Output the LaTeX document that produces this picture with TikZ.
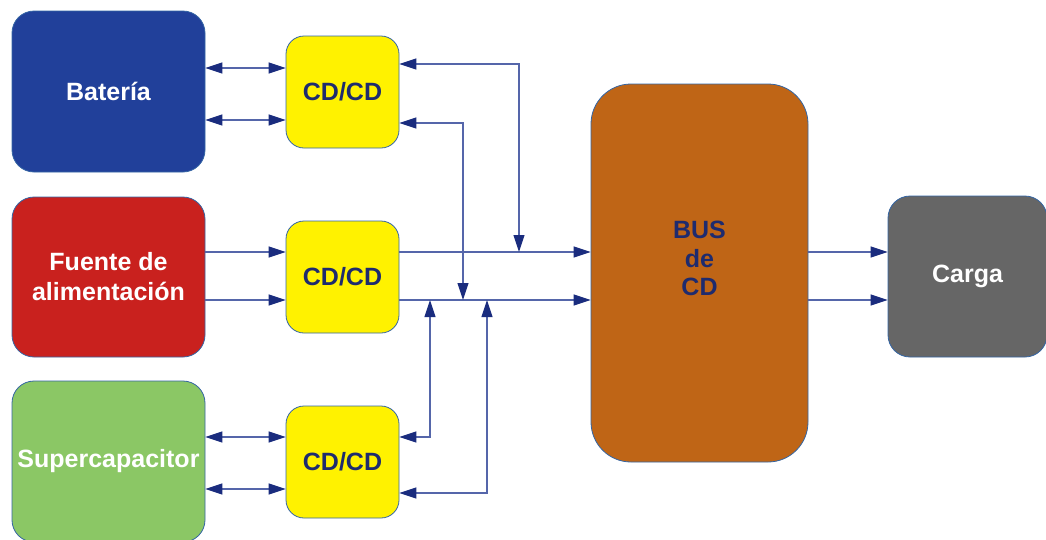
\documentclass[tikz,border=0pt]{standalone}
\usepackage{fontspec}
\setmainfont{Liberation Sans}
\usetikzlibrary{arrows.meta}

\definecolor{edgec}{HTML}{3465A4}
\definecolor{batc}{HTML}{21409A}
\definecolor{fuentec}{HTML}{C9211E}
\definecolor{superc}{HTML}{8BC765}
\definecolor{cdc}{HTML}{FFF200}
\definecolor{busc}{HTML}{BF6516}
\definecolor{cargac}{HTML}{666666}
\definecolor{labc}{HTML}{1E2B6E}
\definecolor{linec}{HTML}{5566AA}
\definecolor{tipc}{HTML}{1A2C7E}

\begin{document}
\begin{tikzpicture}[x=1pt,y=-1pt,
  block/.style={draw=edgec, line width=0.8pt, rounded corners=22pt, inner sep=0pt,
    font=\bfseries\fontsize{25}{30}\selectfont, align=center},
  cdbox/.style={block, fill=cdc, text=labc, rounded corners=18pt,
    minimum width=113pt, minimum height=112pt},
  link/.style={draw=linec, line width=1.1pt,
    >={Triangle[length=17pt,width=11pt,color=tipc]}}
]
\useasboundingbox (0,0) rectangle (1046,539);

% sources
\node[block, fill=batc, text=white, minimum width=193pt, minimum height=161pt] (bat) at (108.5,91.5) {Batería};
\node[block, fill=fuentec, text=white, minimum width=193pt, minimum height=160pt] (fue) at (108.5,277) {Fuente de\\alimentación};
\node[block, fill=superc, text=white, minimum width=193pt, minimum height=161pt] (sup) at (108.5,461.5) {Supercapacitor};

% converters
\node[cdbox] (cd1) at (342.5,92) {CD/CD};
\node[cdbox] (cd2) at (342.5,277) {CD/CD};
\node[cdbox] (cd3) at (342.5,462) {CD/CD};

% bus and load
\node[block, fill=busc, rounded corners=40pt, minimum width=217pt, minimum height=378pt] (bus) at (699.5,273) {};
\node[font=\bfseries\fontsize{25}{28.5}\selectfont, text=labc, align=center] (bustext) at (699.5,258.5) {BUS\\de\\CD};
\node[block, fill=cargac, text=white, minimum width=159pt, minimum height=161pt] (carga) at (967.5,276.5) {Carga};

% horizontal lanes
\coordinate (la) at (0,68);
\coordinate (lb) at (0,120);
\coordinate (lc) at (0,252);
\coordinate (ld) at (0,300);
\coordinate (le) at (0,437);
\coordinate (lf) at (0,489);
\coordinate (ra) at (0,64);
\coordinate (rb) at (0,123);
\coordinate (re) at (0,437);
\coordinate (rf) at (0,493);
% vertical risers
\coordinate (va) at (519,0);
\coordinate (vb) at (463,0);
\coordinate (ve) at (430,0);
\coordinate (vf) at (487,0);

% source to converter
\draw[link,<->] (bat.east |- la) -- (cd1.west |- la);
\draw[link,<->] (bat.east |- lb) -- (cd1.west |- lb);
\draw[link,->] (fue.east |- lc) -- (cd2.west |- lc);
\draw[link,->] (fue.east |- ld) -- (cd2.west |- ld);
\draw[link,<->] (sup.east |- le) -- (cd3.west |- le);
\draw[link,<->] (sup.east |- lf) -- (cd3.west |- lf);

% converter to bus
\draw[link,->] (cd2.east |- lc) -- (bus.west |- lc);
\draw[link,->] (cd2.east |- ld) -- (bus.west |- ld);

% storage links to the bus lines
\draw[link,<->] (cd1.east |- ra) -| (va |- lc);
\draw[link,<->] (cd1.east |- rb) -| (vb |- ld);
\draw[link,<->] (cd3.east |- re) -| (ve |- ld);
\draw[link,<->] (cd3.east |- rf) -| (vf |- ld);

% bus to load
\draw[link,->] (bus.east |- lc) -- (carga.west |- lc);
\draw[link,->] (bus.east |- ld) -- (carga.west |- ld);
\end{tikzpicture}
\end{document}
